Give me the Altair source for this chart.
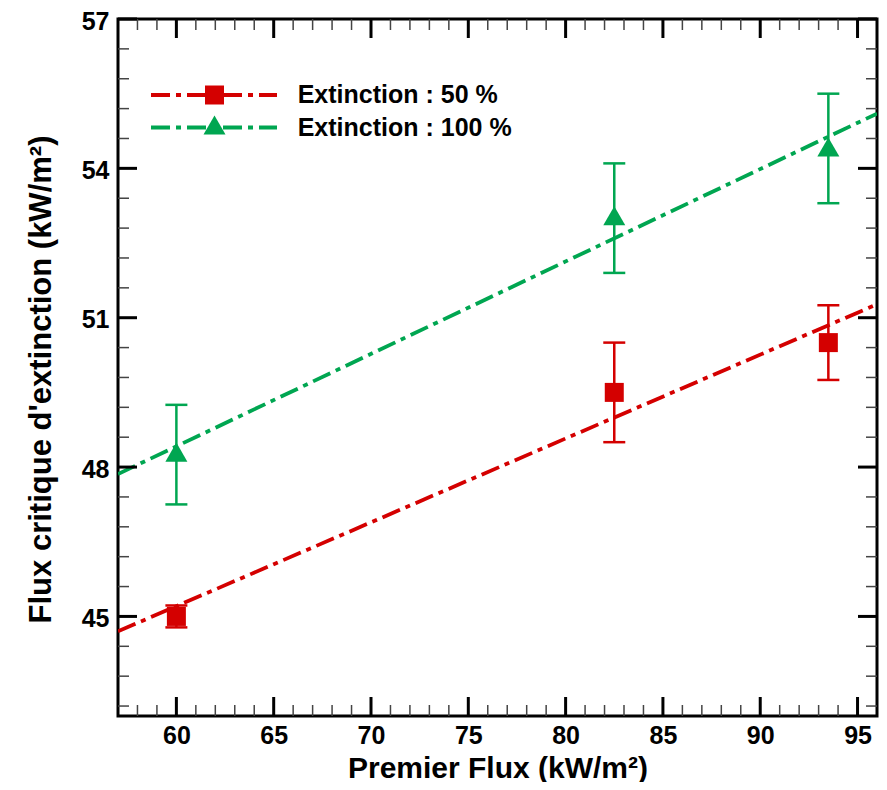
import altair as alt
import pandas as pd

# ---- data ----
premier_flux = [60, 82.5, 93.5]

ext50_y = [45.0, 49.5, 50.5]
ext50_lo = [44.78, 48.5, 49.75]
ext50_hi = [45.22, 50.5, 51.25]

ext100_y = [48.3, 53.05, 54.43]
ext100_lo = [47.25, 51.9, 53.3]
ext100_hi = [49.25, 54.1, 55.5]

fit_x = [57, 96]
fit50_y = [44.7, 51.27]
fit100_y = [47.86, 55.1]

x_major = [60, 65, 70, 75, 80, 85, 90, 95]
x_minor = [58, 59, 61, 62, 63, 64, 66, 67, 68, 69, 71, 72, 73, 74, 76, 77, 78, 79,
           81, 82, 83, 84, 86, 87, 88, 89, 91, 92, 93, 94]
y_major = [45, 48, 51, 54, 57]
y_minor = [43.2, 43.8, 44.4, 45.6, 46.2, 46.8, 47.4, 48.6, 49.2, 49.8, 50.4,
           51.6, 52.2, 52.8, 53.4, 54.6, 55.2, 55.8, 56.4]

legend_labels = ["Extinction : 50 %", "Extinction : 100 %"]
x_title = "Premier Flux (kW/m²)"
y_title = "Flux critique d'extinction (kW/m²)"

# ---- styling ----
FONT = "Liberation Sans"
RED = "#d40000"
GREEN = "#00a651"
W, H = 759, 697
TOP = 11
DASH = [19, 6, 5, 6]

xs = alt.Scale(domain=[57, 96], nice=False, zero=False)
ys = alt.Scale(domain=[43, 57], nice=False, zero=False)

xaxis = alt.Axis(values=x_major, ticks=False, domain=False, grid=False,
                 labelFont=FONT, labelFontSize=25, labelFontWeight="bold",
                 labelColor="black", labelPadding=7, title=x_title,
                 titleFont=FONT, titleFontSize=30, titleFontWeight="bold",
                 titleColor="black", titleY=61, titleBaseline="alphabetic")
yaxis = alt.Axis(values=y_major, ticks=False, domain=False, grid=False,
                 labelFont=FONT, labelFontSize=25, labelFontWeight="bold",
                 labelColor="black", labelPadding=9, labelOffset=2, title=y_title,
                 titleFont=FONT, titleFontSize=31, titleFontWeight="bold",
                 titleColor="black", titleAngle=-90, titleX=-68, titleY=360,
                 titleAlign="center", titleBaseline="alphabetic")


def X(f):
    return alt.X(f, type="quantitative", scale=xs, axis=xaxis)


def Y(f):
    return alt.Y(f, type="quantitative", scale=ys, axis=yaxis)


def series(yv, lo, hi, fy, color, shape, size):
    df = pd.DataFrame({"x": premier_flux, "y": yv, "lo": lo, "hi": hi})
    fit = pd.DataFrame({"x": fit_x, "y": fy})
    line = alt.Chart(fit).mark_line(color=color, strokeWidth=3.8, strokeDash=DASH,
                                    clip=True).encode(x=X("x"), y=Y("y"))
    err = alt.Chart(df).mark_rule(color=color, strokeWidth=2.5).encode(
        x=X("x"), y=Y("lo"), y2="hi")
    cap_hi = alt.Chart(df).mark_tick(color=color, orient="horizontal", size=22,
                                     thickness=2.5, opacity=1).encode(x=X("x"), y=Y("hi"))
    cap_lo = alt.Chart(df).mark_tick(color=color, orient="horizontal", size=22,
                                     thickness=2.5, opacity=1).encode(x=X("x"), y=Y("lo"))
    pts = alt.Chart(df).mark_point(shape=shape, filled=True, size=size, color=color,
                                   opacity=1).encode(x=X("x"), y=Y("y"))
    return [line, err, cap_hi, cap_lo, pts]


def xticks(vals, length, width, color):
    df = pd.DataFrame({"v": vals})
    b = alt.Chart(df).mark_rule(color=color, strokeWidth=width)
    return [b.encode(x=X("v"), y=alt.value(H), y2=alt.value(H - length)),
            b.encode(x=X("v"), y=alt.value(0), y2=alt.value(length))]


def yticks(vals, length, width, color):
    df = pd.DataFrame({"v": vals})
    b = alt.Chart(df).mark_rule(color=color, strokeWidth=width)
    return [b.encode(y=Y("v"), x=alt.value(0), x2=alt.value(length)),
            b.encode(y=Y("v"), x=alt.value(W), x2=alt.value(W - length))]


one = pd.DataFrame({"k": [0]})


def legend_item(label, color, shape, size, ly, my, ty):
    ln = alt.Chart(one).mark_rule(color=color, strokeWidth=4, strokeDash=DASH).encode(
        x=alt.value(33), x2=alt.value(159), y=alt.value(ly))
    mk = alt.Chart(one).mark_point(shape=shape, filled=True, size=size, color=color,
                                   opacity=1).encode(x=alt.value(96.5), y=alt.value(my))
    tx = alt.Chart(one).mark_text(align="left", baseline="alphabetic", font=FONT,
                                  fontSize=25, fontWeight="bold", color="black").encode(
        x=alt.value(179.7), y=alt.value(ty), text=alt.value(label))
    return [ln, mk, tx]


layers = []
layers += series(ext50_y, ext50_lo, ext50_hi, fit50_y, RED, "square", 361)
layers += series(ext100_y, ext100_lo, ext100_hi, fit100_y, GREEN, "triangle-up", 484)
layers += xticks(x_major, 19, 3, "black")
layers += xticks(x_minor, 11, 1.5, "#444444")
layers += yticks(y_major, 19, 3, "black")
layers += yticks(y_minor, 11, 1.5, "#444444")
layers += legend_item(legend_labels[0], RED, "square", 361, 76, 76, 84)
layers += legend_item(legend_labels[1], GREEN, "triangle-up", 484, 108.5, 106, 117)

chart = alt.layer(*layers).properties(
    width=W, height=H,
    autosize=alt.AutoSizeParams(type="none"),
    padding={"left": 110, "top": TOP, "right": 2, "bottom": 66},
    background="white",
).configure_view(stroke="black", strokeWidth=3)

chart.save("out.html", embed_options={"renderer": "svg", "actions": False})
